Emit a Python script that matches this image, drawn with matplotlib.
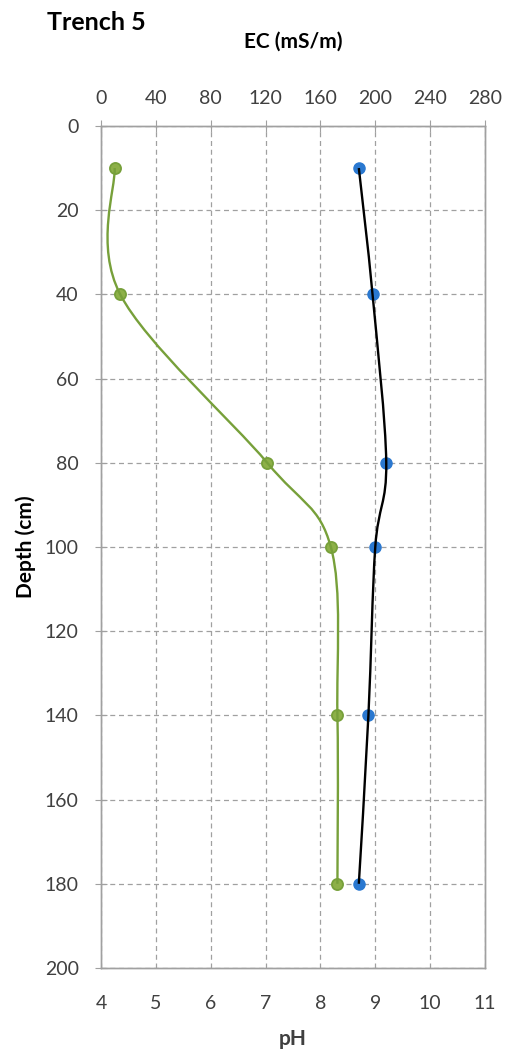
import numpy as np
import matplotlib
matplotlib.use("Agg")
import matplotlib.pyplot as plt
from matplotlib.path import Path
from matplotlib.patches import PathPatch

plt.rcParams['font.family'] = ['Lato', 'DejaVu Sans']

depth = [10, 40, 80, 100, 140, 180]
ph = [4.25, 4.35, 7.03, 8.19, 8.31, 8.31]
ec = [188, 198, 208, 200, 195, 188]

ph_ticks = [4, 5, 6, 7, 8, 9, 10, 11]
ec_ticks = [0, 40, 80, 120, 160, 200, 240, 280]
depth_ticks = [0, 20, 40, 60, 80, 100, 120, 140, 160, 180, 200]

GREEN = '#77A03A'
GREEN_FILL = '#8DB048'
BLUE = '#2A78D0'
GRAY = '#A0A0A0'
TXT = '#404040'

fig = plt.figure(figsize=(5.08, 10.54), dpi=100)
ax = fig.add_axes([0.1988, 0.0816, 0.7559, 0.7989])
ax2 = ax.twiny()


def smooth_path(a, xs, ys):
    # Excel-like smoothed line (Catmull-Rom bezier) computed in display space
    pts = a.transData.transform(np.column_stack([xs, ys]))
    n = len(pts)
    verts = [pts[0]]
    codes = [Path.MOVETO]
    for i in range(n - 1):
        p0 = pts[i - 1] if i > 0 else pts[i]
        p1 = pts[i]
        p2 = pts[i + 1]
        p3 = pts[i + 2] if i + 2 < n else pts[i + 1]
        c1 = p1 + (p2 - p0) / 6.0
        c2 = p2 - (p3 - p1) / 6.0
        verts += [c1, c2, p2]
        codes += [Path.CURVE4] * 3
    return Path(verts, codes)


ax.set_xlim(4, 11)
ax.set_ylim(200, 0)
ax2.set_xlim(0, 280)
ax2.set_ylim(200, 0)

ax.set_xticks(ph_ticks)
ax.set_yticks(depth_ticks)
ax2.set_xticks(ec_ticks)

ax.grid(True, color=GRAY, linestyle=(0, (4, 3)), linewidth=0.9)
ax.set_axisbelow(True)

for a in (ax, ax2):
    for s in a.spines.values():
        s.set_color(GRAY)
        s.set_linewidth(1.0)

LS = 14
ax.tick_params(axis='x', bottom=False, labelsize=LS, labelcolor=TXT, pad=16)
ax.tick_params(axis='y', direction='inout', length=8, color=GRAY, labelsize=LS, labelcolor=TXT, pad=12)
ax2.tick_params(axis='x', direction='inout', length=8, color=GRAY, labelsize=LS, labelcolor=TXT, pad=10)

ax.set_xlabel('pH', fontsize=15, fontweight='bold', color=TXT, labelpad=12)
ax.set_ylabel('Depth (cm)', fontsize=15, fontweight='bold', color='black', labelpad=6)
ax2.set_xlabel('EC (mS/m)', fontsize=15, fontweight='bold', color='black', labelpad=30)

fig.canvas.draw()

p_green = smooth_path(ax, ph, depth)
p_blue = smooth_path(ax2, ec, depth)
fig.patches.append(PathPatch(p_green, transform=None, fill=False, edgecolor=GREEN, linewidth=1.7, zorder=3))
fig.patches.append(PathPatch(p_blue, transform=None, fill=False, edgecolor='black', linewidth=1.7, zorder=3))
for pp in fig.patches:
    pp.set_figure(fig)

ax2.plot(ec, depth, linestyle='none', marker='o', markersize=8, markerfacecolor=BLUE, markeredgecolor=BLUE, zorder=5, clip_on=False)
ax.plot(ph, depth, linestyle='none', marker='o', markersize=8, markerfacecolor=GREEN_FILL, markeredgecolor=GREEN, markeredgewidth=1.3, zorder=5, clip_on=False)

fig.text(47 / 508, 1 - 22 / 1054, 'Trench 5', fontsize=18, fontweight='bold', color='black', va='center', ha='left')

fig.savefig('out.png', dpi=100)
